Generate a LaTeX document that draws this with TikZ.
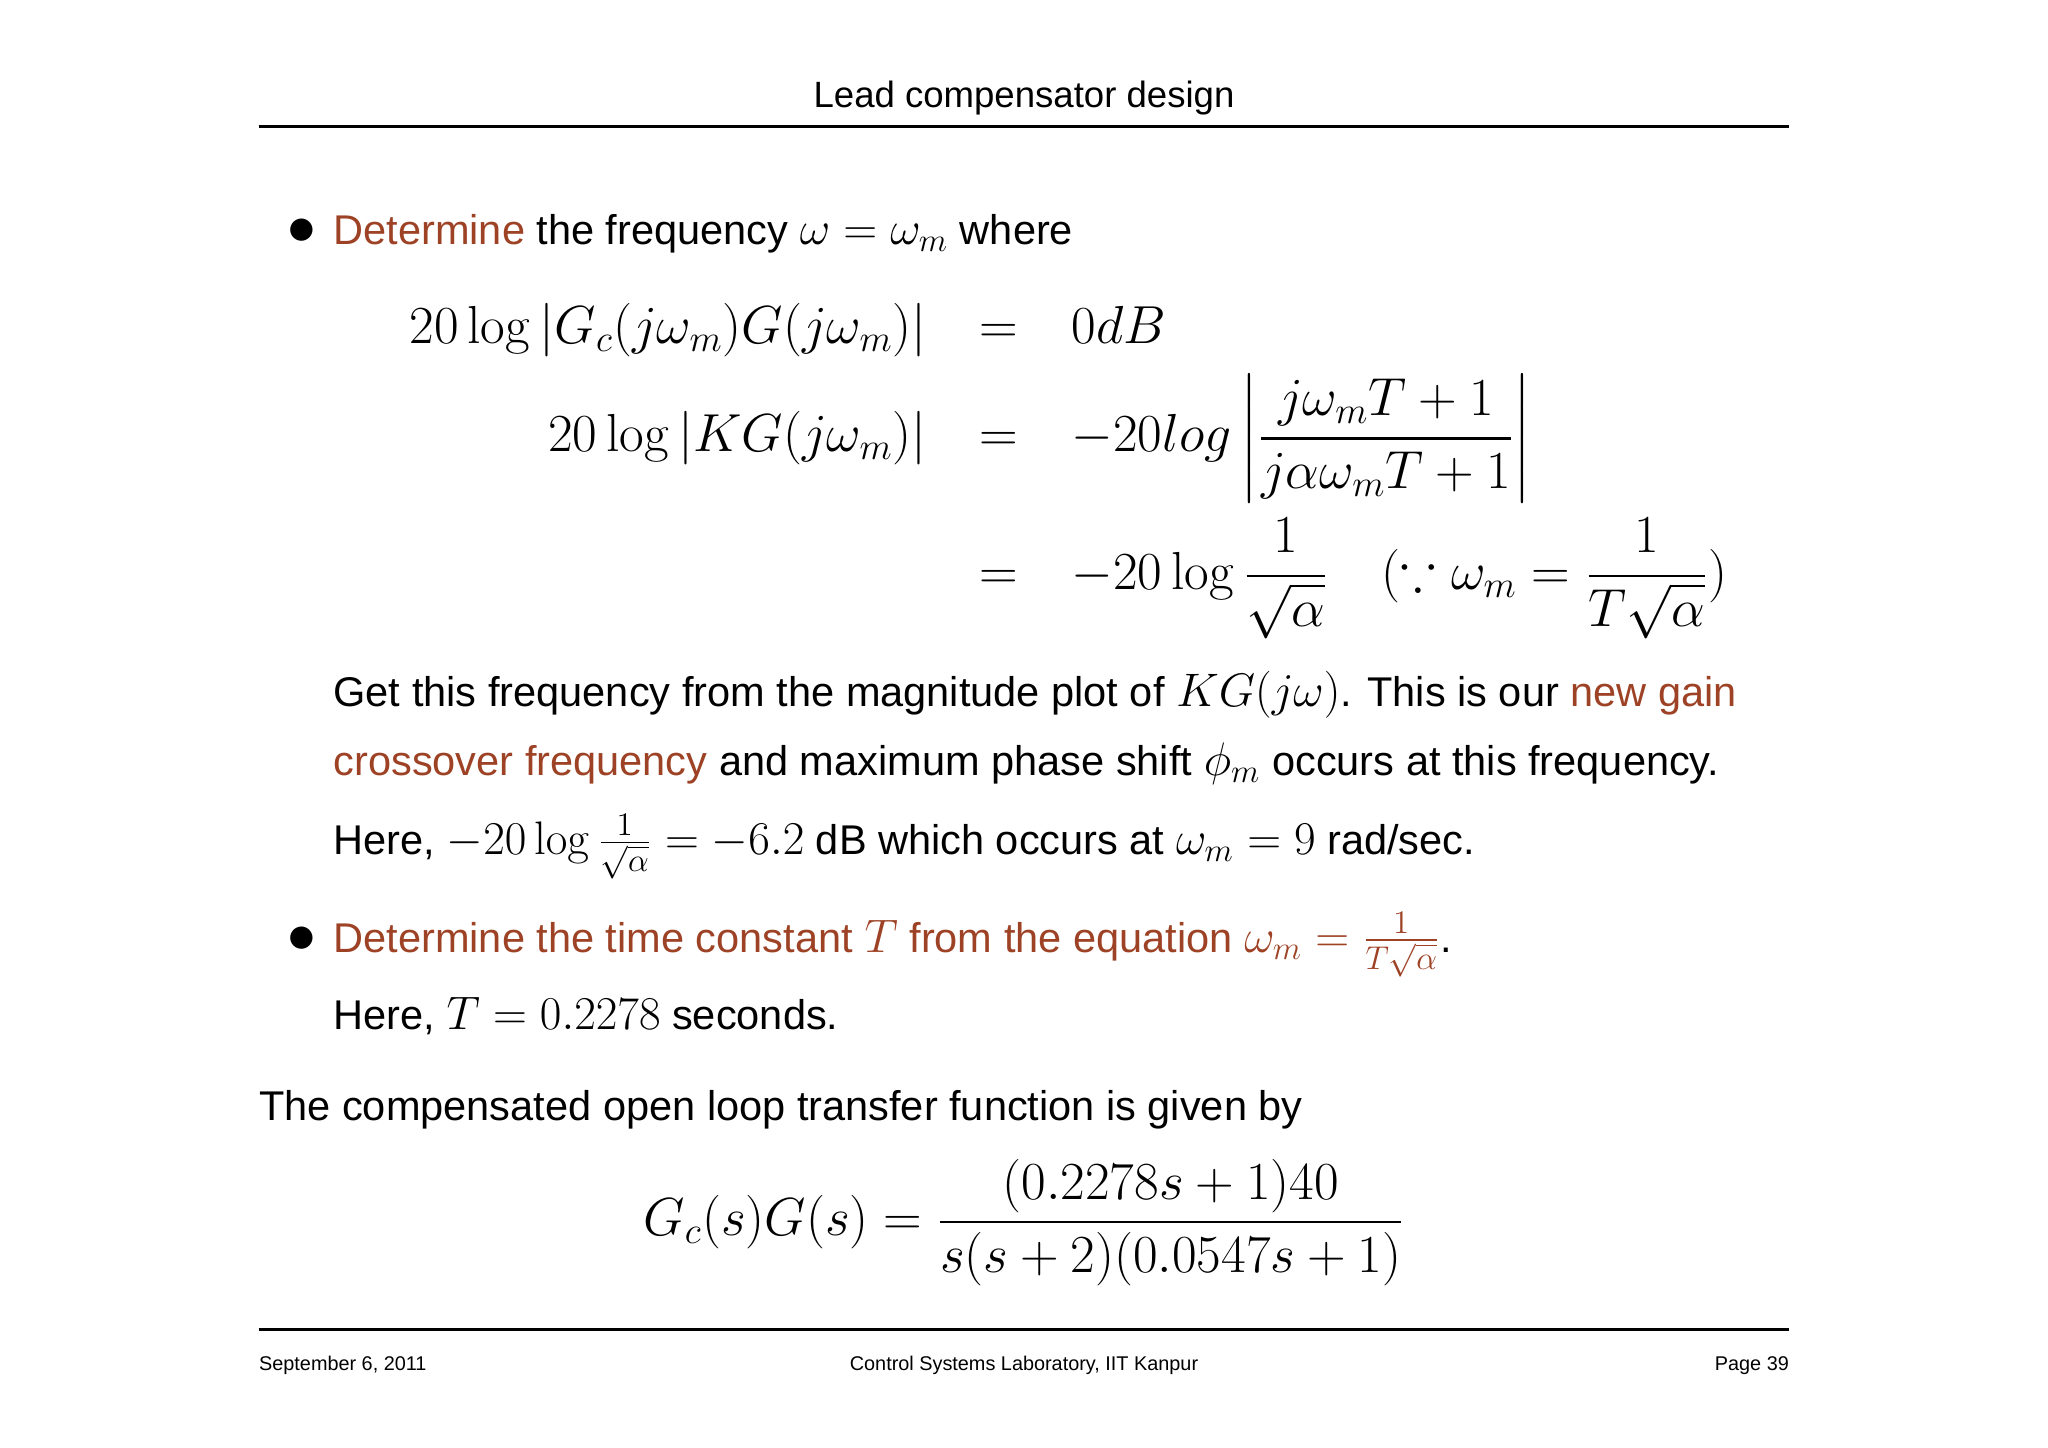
\documentclass[tikz,border=0pt]{standalone}
\usepackage{fix-cm}
\usepackage{amsmath,amssymb}
\usepackage[no-math]{fontspec}
\setmainfont{Liberation Sans}
\definecolor{lb}{RGB}{158,66,38}
\newcommand{\MM}[1]{{\fontsize{18}{20}\selectfont$#1$}}
\begin{document}
\begin{tikzpicture}[x=0.5pt,y=-0.5pt,
  t/.style={inner sep=0,font=\fontsize{15.9}{18}\selectfont},
  ft/.style={inner sep=0,font=\fontsize{7.6}{9}\selectfont},
  m/.style={inner sep=0,font=\fontsize{20.5}{22}\selectfont}]
\useasboundingbox[fill=white] (0,0) rectangle (1568,1108);
\node[t,anchor=base] (title) at (784,82) {\fontsize{14}{16}\selectfont Lead compensator design};
\draw[line width=1pt] (198,97) coordinate (h1) -- (1370,97) coordinate (h2);
\node[t,anchor=base west] (b1) at (220,187) {\fontsize{22}{22}\selectfont$\bullet$};
\node[t,anchor=base west] (l1) at (255,187) {\textcolor{lb}{Determine} the frequency \MM{\omega=\omega_m} where};
\node[m,anchor=base east] (e1l) at (710,263) {$20\log|G_c(j\omega_m)G(j\omega_m)|$};
\node[m,anchor=base] (e1m) at (765,263) {$=$};
\node[m,anchor=base west] (e1r) at (820,263) {$0dB$};
\node[m,anchor=base east] (e2l) at (710,346) {$20\log|KG(j\omega_m)|$};
\node[m,anchor=base] (e2m) at (765,346) {$=$};
\node[m,anchor=base west] (e2r) at (820,346) {$\displaystyle -20log\left|\frac{j\omega_mT+1}{j\alpha\omega_mT+1}\right|$};
\node[m,anchor=base] (e3m) at (765,451) {$=$};
\node[m,anchor=base west] (e3r) at (820,451) {$\displaystyle -20\log\frac{1}{\sqrt{\alpha}}\quad(\because\omega_m=\frac{1}{T\sqrt{\alpha}})$};
\node[t,anchor=base west] (p1) at (255,541) {Get this frequency from the magnitude plot of \MM{KG(j\omega)}. This is our \textcolor{lb}{new gain}};
\node[t,anchor=base west] (p2) at (255,594) {\textcolor{lb}{crossover frequency} and maximum phase shift \MM{\phi_m} occurs at this frequency.};
\node[t,anchor=base west] (p3) at (255,654) {Here, \MM{-20\log\frac{1}{\sqrt{\alpha}}=-6.2} dB which occurs at \MM{\omega_m=9} rad/sec.};
\node[t,anchor=base west] (b2) at (220,729) {\fontsize{22}{22}\selectfont$\bullet$};
\node[t,anchor=base west] (l2) at (255,729) {\textcolor{lb}{Determine the time constant \MM{T} from the equation \MM{\omega_m=\frac{1}{T\sqrt{\alpha}}}}.};
\node[t,anchor=base west] (l3) at (255,788) {Here, \MM{T=0.2278} seconds.};
\node[t,anchor=base west] (l4) at (198,858) {The compensated open loop transfer function is given by};
\node[m,anchor=base] (tf) at (784,946) {$\displaystyle G_c(s)G(s)=\frac{(0.2278s+1)40}{s(s+2)(0.0547s+1)}$};
\draw[line width=1pt] (198,1018) coordinate (f1) -- (1370,1018) coordinate (f2);
\node[ft,anchor=base west] (fl) at (198,1049) {September 6, 2011};
\node[ft,anchor=base] (fc) at (784,1049) {Control Systems Laboratory, IIT Kanpur};
\node[ft,anchor=base east] (fr) at (1370,1049) {Page 39};
\end{tikzpicture}
\end{document}
